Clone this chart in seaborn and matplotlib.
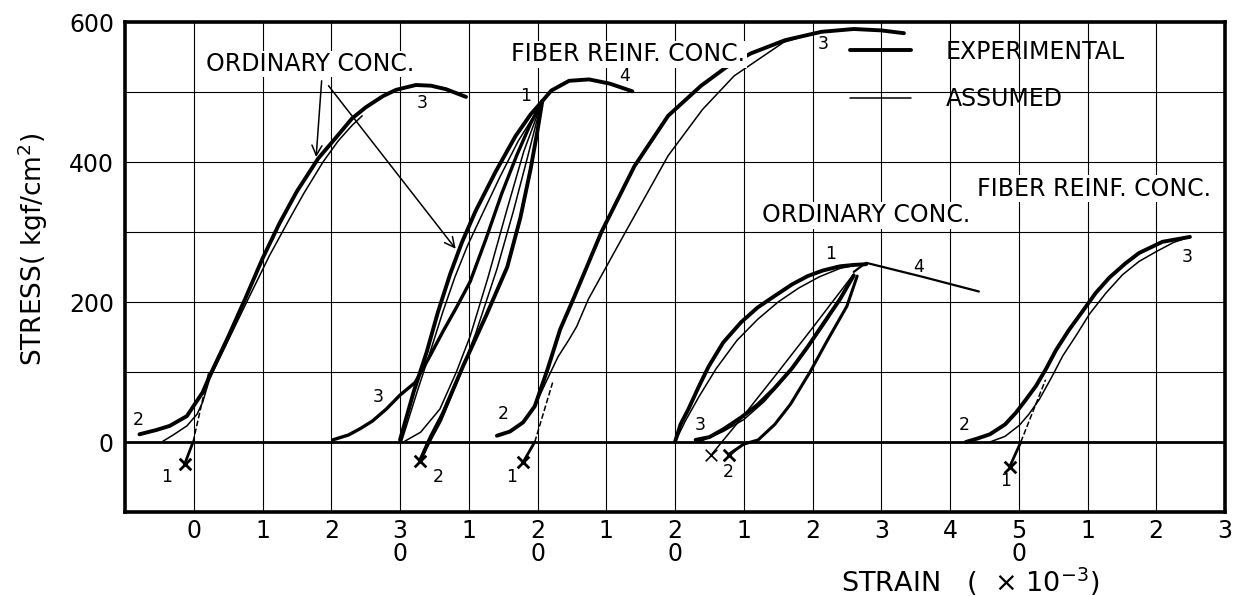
import matplotlib
matplotlib.use("Agg")
import matplotlib.pyplot as plt
import seaborn as sns
from matplotlib.lines import Line2D

# ---------------- data ----------------
x_ticks = list(range(0, 16))
x_tick_labels = ['0', '1', '2', '3\n0', '1', '2\n0', '1', '2\n0', '1', '2', '3', '4', '5\n0', '1', '2', '3']
y_ticks = [0, 200, 400, 600]
y_minor = [100, 300, 500]

# Group A: ordinary concrete, monotonic
A_exp_x = [-0.79, -0.55, -0.35, -0.1, 0.13, 0.23, 0.5, 0.75, 1.0, 1.25, 1.5, 1.81, 2.07, 2.3, 2.5, 2.75, 2.94, 3.23, 3.45, 3.67, 3.96]
A_exp_y = [11, 17, 23, 37, 71, 94, 150, 205, 262, 313, 358, 405, 435, 462, 478, 494, 503, 510, 509, 504, 493]
A_ass_x = [-0.45, -0.3, -0.1, 0.05, 0.13, 0.23, 0.5, 0.8, 1.1, 1.4, 1.6, 1.88, 2.1, 2.3, 2.45]
A_ass_y = [1, 10, 23, 40, 57, 90, 145, 206, 266, 320, 355, 400, 430, 452, 466]
A_dash_x = [-0.01, 0.22]
A_dash_y = [0, 100]
A_mark_x = [-0.13, -0.01]
A_mark_y = [-31, 0]

# Group B: ordinary concrete, cyclic
B_env_exp_x = [3.0, 3.2, 3.39, 3.55, 3.73, 3.9, 4.1, 4.39, 4.68, 4.9, 5.07]
B_env_exp_y = [3, 72, 129, 185, 240, 285, 330, 386, 437, 468, 487]
B_env_ass_x = [3.02, 3.25, 3.45, 3.62, 3.8, 3.98, 4.18, 4.45, 4.72, 4.93, 5.07]
B_env_ass_y = [0, 72, 132, 185, 236, 280, 322, 378, 430, 463, 487]
B_rel_exp_x = [2.02, 2.25, 2.42, 2.6, 2.8, 3.0, 3.22, 3.42, 3.62, 3.82, 4.02, 4.25, 4.48, 4.7, 4.9, 5.07]
B_rel_exp_y = [3, 10, 19, 30, 47, 67, 85, 120, 157, 192, 229, 290, 355, 410, 455, 487]
B_unl_exp_x = [3.29, 3.45, 3.62, 3.92, 4.25, 4.56, 4.75, 4.9, 5.0, 5.07]
B_unl_exp_y = [-27, 8, 40, 109, 180, 250, 320, 390, 445, 487]
B_unl_ass_x = [3.3, 3.6, 3.85, 4.1, 4.41, 4.65, 4.85, 4.98, 5.07]
B_unl_ass_y = [-25, 30, 90, 155, 247, 330, 405, 455, 487]
B_rel_ass_x = [3.05, 3.3, 3.58, 3.82, 4.02, 4.28, 4.55, 4.8, 4.97, 5.07]
B_rel_ass_y = [0, 14, 47, 100, 151, 235, 330, 415, 460, 487]
B_top_x = [5.07, 5.2, 5.46, 5.75, 6.05, 6.38]
B_top_y = [487, 502, 516, 518, 512, 501]

# Group C: fiber reinforced concrete, monotonic
C_exp_x = [4.41, 4.6, 4.79, 4.96, 5.15, 5.33, 5.52, 5.93, 6.41, 6.9, 7.38, 7.74, 8.1, 8.6, 9.13, 9.6, 10.0, 10.33]
C_exp_y = [9, 15, 28, 51, 105, 161, 204, 300, 394, 466, 509, 535, 555, 574, 586, 590, 588, 584]
C_ass_x = [4.96, 5.12, 5.3, 5.45, 5.57, 5.74, 6.28, 6.9, 7.4, 7.86, 8.58, 9.13]
C_ass_y = [51, 85, 122, 145, 165, 204, 300, 409, 475, 523, 571, 587]
C_dash_x = [4.96, 5.22]
C_dash_y = [0, 85]
C_mark_x = [4.79, 4.96]
C_mark_y = [-29, 0]

# Group D: ordinary concrete, cyclic
D_env_exp_x = [7.0, 7.08, 7.2, 7.35, 7.49, 7.7, 7.96, 8.2, 8.44, 8.7, 8.93, 9.15, 9.4, 9.6, 9.78]
D_env_exp_y = [0, 25, 48, 80, 108, 142, 171, 192, 208, 225, 237, 245, 251, 253, 254]
D_env_ass_x = [7.0, 7.15, 7.35, 7.6, 7.9, 8.2, 8.5, 8.8, 9.1, 9.4, 9.6]
D_env_ass_y = [0, 30, 65, 105, 145, 175, 200, 220, 236, 248, 252]
D_desc_x = [9.6, 9.78, 10.6, 11.42]
D_desc_y = [243, 256, 236, 215]
D_rel_exp_x = [7.3, 7.5, 7.7, 7.96, 8.2, 8.44, 8.7, 8.93, 9.15, 9.4, 9.6]
D_rel_exp_y = [3, 7, 18, 35, 53, 76, 105, 136, 168, 204, 238]
D_rel_ass_x = [7.35, 7.7, 8.0, 8.3, 8.6, 8.9, 9.2, 9.45, 9.6]
D_rel_ass_y = [0, 15, 32, 58, 92, 130, 172, 212, 238]
D_unl_ass_x = [7.53, 8.0, 8.5, 9.0, 9.6]
D_unl_ass_y = [-18, 38, 100, 163, 240]
D_unl_exp_x = [7.78, 8.0, 8.21, 8.45, 8.68, 8.97, 9.21, 9.5, 9.65]
D_unl_exp_y = [-18, -3, 3, 25, 54, 101, 144, 194, 237]

# Group E: fiber reinforced concrete, monotonic
E_exp_x = [11.23, 11.4, 11.58, 11.8, 11.96, 12.1, 12.25, 12.4, 12.54, 12.73, 12.93, 13.12, 13.32, 13.55, 13.75, 14.09, 14.49]
E_exp_y = [0, 5, 11, 25, 42, 60, 80, 105, 131, 160, 187, 213, 235, 255, 270, 286, 293]
E_ass_x = [11.58, 11.8, 12.01, 12.15, 12.3, 12.47, 12.64, 12.84, 13.03, 13.27, 13.51, 13.75, 14.0, 14.25, 14.49]
E_ass_y = [0, 8, 24, 40, 61, 91, 123, 153, 183, 213, 239, 258, 272, 285, 293]
E_dash_x = [12.03, 12.39]
E_dash_y = [0, 89]
E_mark_x = [11.87, 12.03]
E_mark_y = [-35, 0]

# cross markers
X_marks_x = [-0.13, 3.29, 4.79, 7.78, 11.87]
X_marks_y = [-31, -27, -29, -18, -35]
X_thin_x = [7.53]
X_thin_y = [-18]

# point labels (text, x, y)
pt_labels = [('2', -0.8, 32), ('1', -0.4, -50), ('3', 3.33, 485),
             ('3', 2.68, 64), ('1', 4.83, 494), ('4', 6.26, 523), ('2', 3.55, -50),
             ('2', 4.5, 40), ('1', 4.63, -50), ('3', 9.15, 568),
             ('3', 7.36, 25), ('1', 9.26, 268), ('4', 10.54, 250), ('2', 7.78, -43),
             ('2', 11.2, 25), ('1', 11.81, -56), ('3', 14.45, 265)]

# group captions (text, x, y)
captions = [('ORDINARY CONC.', 1.70, 540), ('FIBER REINF. CONC.', 6.32, 554),
            ('ORDINARY CONC.', 9.78, 324), ('FIBER REINF. CONC.', 13.1, 362)]

# arrows from caption (start) to curve (end)
arrows = [((1.86, 516), (1.78, 407)), ((1.96, 509), (3.81, 276))]

# ---------------- drawing ----------------
sns.set_style("white")
plt.rcParams['font.family'] = ['DejaVu Sans']
plt.rcParams['text.color'] = 'black'
plt.rcParams['axes.labelcolor'] = 'black'
plt.rcParams['xtick.color'] = 'black'
plt.rcParams['ytick.color'] = 'black'

fig = plt.figure(figsize=(12.4, 5.96), dpi=100)
ax = fig.add_axes([125 / 1240, 1 - 512 / 596, 1100 / 1240, 490 / 596])

THICK = 2.8
THIN = 1.1

def draw(xs, ys, lw, ls='-'):
    sns.lineplot(x=xs, y=ys, sort=False, estimator=None, color='black',
                 linewidth=lw, linestyle=ls, ax=ax, solid_capstyle='round',
                 solid_joinstyle='round')

# group A
draw(A_exp_x, A_exp_y, THICK)
draw(A_ass_x, A_ass_y, THIN)
draw(A_dash_x, A_dash_y, THIN, '--')
draw(A_mark_x, A_mark_y, 2.0)
# group B
draw(B_env_exp_x, B_env_exp_y, THICK)
draw(B_env_ass_x, B_env_ass_y, THIN)
draw(B_rel_exp_x, B_rel_exp_y, 2.4)
draw(B_unl_exp_x, B_unl_exp_y, THICK)
draw(B_unl_ass_x, B_unl_ass_y, THIN)
draw(B_rel_ass_x, B_rel_ass_y, THIN)
draw(B_top_x, B_top_y, THICK)
# group C
draw(C_exp_x, C_exp_y, THICK)
draw(C_ass_x, C_ass_y, THIN)
draw(C_dash_x, C_dash_y, THIN, '--')
draw(C_mark_x, C_mark_y, 2.0)
# group D
draw(D_env_exp_x, D_env_exp_y, THICK)
draw(D_env_ass_x, D_env_ass_y, THIN)
draw(D_desc_x, D_desc_y, 1.6)
draw(D_rel_exp_x, D_rel_exp_y, THICK)
draw(D_rel_ass_x, D_rel_ass_y, THIN)
draw(D_unl_ass_x, D_unl_ass_y, THIN)
draw(D_unl_exp_x, D_unl_exp_y, 2.2)
# group E
draw(E_exp_x, E_exp_y, THICK)
draw(E_ass_x, E_ass_y, THIN)
draw(E_dash_x, E_dash_y, THIN, '--')
draw(E_mark_x, E_mark_y, 2.0)

sns.scatterplot(x=X_marks_x, y=X_marks_y, marker='x', s=70, color='black',
                linewidth=2.0, ax=ax, zorder=5)
sns.scatterplot(x=X_thin_x, y=X_thin_y, marker='x', s=70, color='black',
                linewidth=1.2, ax=ax, zorder=5)

for t, x, y in pt_labels:
    ax.text(x, y, t, fontsize=12.5, ha='center', va='center', color='black')

for t, x, y in captions:
    ax.text(x, y, t, fontsize=17, ha='center', va='center', color='black',
            bbox=dict(facecolor='white', edgecolor='none', pad=1.0), zorder=4)

for (sx, sy), (ex, ey) in arrows:
    ax.annotate('', xy=(ex, ey), xytext=(sx, sy),
                arrowprops=dict(arrowstyle='->', color='black', lw=1.1,
                                shrinkA=0, shrinkB=0, mutation_scale=18))

ax.axhline(0, color='black', lw=2.0, zorder=1)

# axes
ax.set_xlim(-1, 15)
ax.set_ylim(-100, 600)
ax.set_xticks(x_ticks)
ax.set_xticklabels(x_tick_labels, fontsize=17, linespacing=0.95)
ax.set_yticks(y_ticks)
ax.set_yticklabels([str(v) for v in y_ticks], fontsize=17)
ax.set_yticks(y_minor, minor=True)
ax.tick_params(axis='both', which='both', length=0)
ax.tick_params(axis='x', pad=5)
ax.tick_params(axis='y', pad=8)
ax.grid(True, which='both', color='black', lw=0.8)
ax.set_axisbelow(True)
for s in ax.spines.values():
    s.set_visible(True)
    s.set_color('black')
    s.set_linewidth(2.6)

ax.set_xlabel('STRAIN   (  \u00d7 10$^{-3}$)', fontsize=19.5)
ax.xaxis.set_label_coords(0.768, -0.143)
ax.xaxis.label.set_va('center')
ax.set_ylabel('STRESS( kgf/cm$^2$)', fontsize=19)
ax.yaxis.set_label_coords(-0.084, 0.535)
ax.yaxis.label.set_va('center')

handles = [Line2D([], [], color='black', lw=THICK), Line2D([], [], color='black', lw=THIN)]
ax.legend(handles, ['EXPERIMENTAL', 'ASSUMED'], loc='center left',
          bbox_to_anchor=(0.659, 0.891), frameon=False, fontsize=17,
          handlelength=2.6, handletextpad=1.45, labelspacing=1.0,
          borderpad=0, borderaxespad=0)

fig.savefig('out.png', dpi=100)
